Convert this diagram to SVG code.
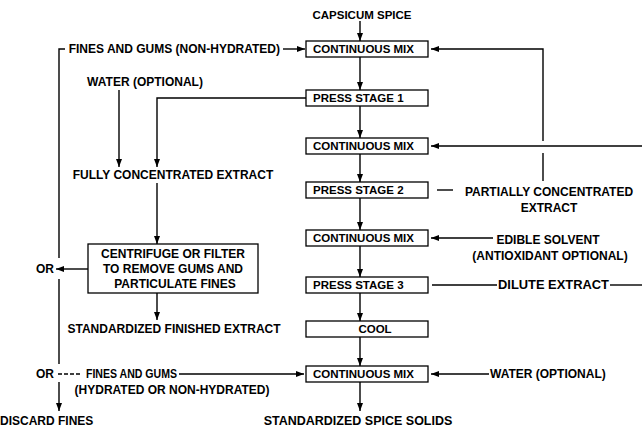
<svg xmlns="http://www.w3.org/2000/svg" width="642" height="428" viewBox="0 0 642 428">
<style>
text{font-family:"Liberation Sans",Arial,sans-serif;font-weight:bold;font-size:12px;fill:#000}
.s{font-size:11.5px}
.m{text-anchor:middle}
.e{text-anchor:end}
.box{fill:#fff;stroke:#000;stroke-width:1.3}
.c{fill:none;stroke:#000;stroke-width:1.4}
.d{stroke-dasharray:4 2}
</style>
<defs>
<marker id="ah" viewBox="0 0 8 6" refX="8" refY="3" markerWidth="8" markerHeight="6" markerUnits="userSpaceOnUse" orient="auto"><path d="M0,0 L8,3 L0,6 z" fill="#000"/></marker>
</defs>
<rect width="642" height="428" fill="#fff"/>
<g id="connectors">
<path class="c" d="M360,21 V41" marker-end="url(#ah)"/>
<path class="c" d="M360,57 V90" marker-end="url(#ah)"/>
<path class="c" d="M360,106 V138" marker-end="url(#ah)"/>
<path class="c" d="M360,154 V182" marker-end="url(#ah)"/>
<path class="c" d="M360,198 V230" marker-end="url(#ah)"/>
<path class="c" d="M360,246 V277" marker-end="url(#ah)"/>
<path class="c" d="M360,293 V321" marker-end="url(#ah)"/>
<path class="c" d="M360,337 V366" marker-end="url(#ah)"/>
<path class="c" d="M360,382 V411" marker-end="url(#ah)"/>
<path class="c" d="M65,49 H59 V258"/>
<path class="c" d="M283,49 H305" marker-end="url(#ah)"/>
<path class="c" d="M543,181 V153"/>
<path class="c" d="M543,141 V49 H431" marker-end="url(#ah)"/>
<path class="c" d="M642,146 H431" marker-end="url(#ah)"/>
<path class="c" d="M437,190 H453"/>
<path class="c" d="M493,238 H431" marker-end="url(#ah)"/>
<path class="c" d="M432,285 H497"/>
<path class="c" d="M610,285 H642"/>
<path class="c" d="M489,374 H431" marker-end="url(#ah)"/>
<path class="c" d="M306,98 H157 V167" marker-end="url(#ah)"/>
<path class="c" d="M119,90 V167" marker-end="url(#ah)"/>
<path class="c" d="M157,183 V244" marker-end="url(#ah)"/>
<path class="c" d="M88,269 H56" marker-end="url(#ah)"/>
<path class="c" d="M157,293 V320" marker-end="url(#ah)"/>
<path class="c" d="M59,279 V364"/>
<path class="c d" d="M58,374 H82"/>
<path class="c" d="M179,374 H304" marker-end="url(#ah)"/>
<path class="c" d="M59,382 V411" marker-end="url(#ah)"/>
</g>
<g id="capsicum"><text class="m s" x="362" y="19">CAPSICUM SPICE</text></g>
<g id="mix1"><rect class="box" x="306" y="41" width="122" height="16"/><text class="s" x="313" y="53">CONTINUOUS MIX</text></g>
<g id="press1"><rect class="box" x="306" y="90" width="122" height="16"/><text class="s" x="313" y="102">PRESS STAGE 1</text></g>
<g id="mix2"><rect class="box" x="306" y="138" width="122" height="16"/><text class="s" x="313" y="150">CONTINUOUS MIX</text></g>
<g id="press2"><rect class="box" x="306" y="182" width="122" height="16"/><text class="s" x="313" y="194">PRESS STAGE 2</text></g>
<g id="mix3"><rect class="box" x="306" y="230" width="122" height="16"/><text class="s" x="313" y="242">CONTINUOUS MIX</text></g>
<g id="press3"><rect class="box" x="306" y="277" width="122" height="16"/><text class="s" x="313" y="289">PRESS STAGE 3</text></g>
<g id="cool"><rect class="box" x="306" y="321" width="122" height="16"/><text class="m s" x="375" y="333">COOL</text></g>
<g id="mix4"><rect class="box" x="306" y="366" width="122" height="16"/><text class="s" x="313" y="378">CONTINUOUS MIX</text></g>
<g id="spice-solids"><text class="m" x="358" y="425" style="font-size:12.5px">STANDARDIZED SPICE SOLIDS</text></g>
<g id="fines1"><text class="e" x="280" y="53">FINES AND GUMS (NON-HYDRATED)</text></g>
<g id="water1"><text class="m" x="145" y="86">WATER (OPTIONAL)</text></g>
<g id="fully"><text class="m" x="173" y="179">FULLY CONCENTRATED EXTRACT</text></g>
<g id="centrifuge"><rect class="box" x="88" y="244" width="170" height="49"/>
<text class="m" x="173" y="258">CENTRIFUGE OR FILTER</text>
<text class="m" x="173" y="273">TO REMOVE GUMS AND</text>
<text class="m" x="175" y="288">PARTICULATE FINES</text></g>
<g id="or1"><text class="m" x="45" y="273">OR</text></g>
<g id="finished"><text class="m" x="174" y="333">STANDARDIZED FINISHED EXTRACT</text></g>
<g id="or2"><text class="m" x="45" y="378">OR</text></g>
<g id="fines2"><text x="86" y="378" textLength="91" lengthAdjust="spacingAndGlyphs">FINES AND GUMS</text><text class="m" x="172" y="394">(HYDRATED OR NON-HYDRATED)</text></g>
<g id="discard"><text x="0" y="425">DISCARD FINES</text></g>
<g id="partial"><text class="m" x="549" y="196">PARTIALLY CONCENTRATED</text><text class="m" x="549" y="212">EXTRACT</text></g>
<g id="solvent"><text class="m" x="548" y="244">EDIBLE SOLVENT</text><text class="m" x="550" y="260">(ANTIOXIDANT OPTIONAL)</text></g>
<g id="dilute"><text x="498" y="289" textLength="111" lengthAdjust="spacingAndGlyphs">DILUTE EXTRACT</text></g>
<g id="water2"><text x="490" y="378">WATER (OPTIONAL)</text></g>
</svg>
